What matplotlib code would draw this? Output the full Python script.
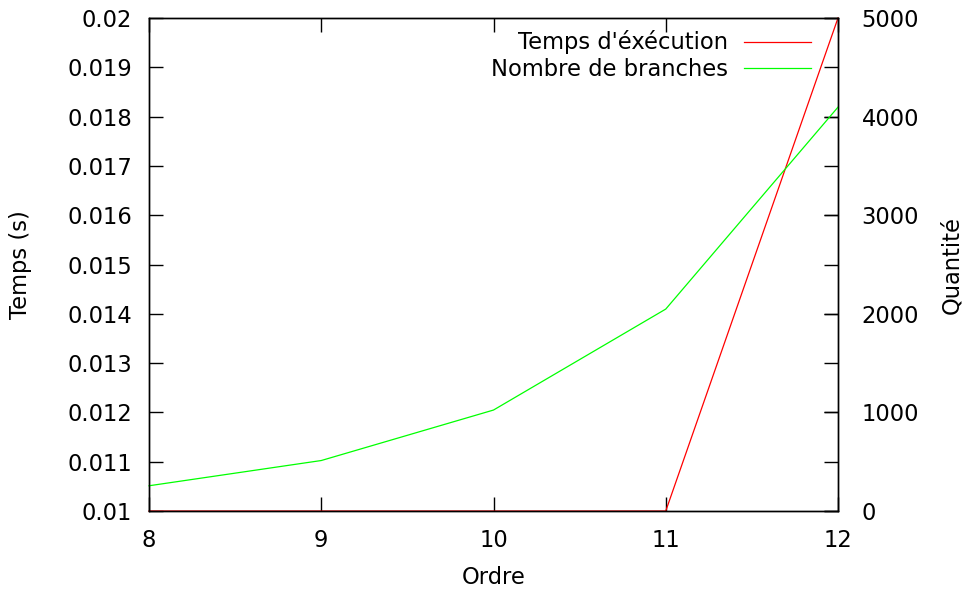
import matplotlib
matplotlib.use("Agg")
import matplotlib.pyplot as plt
from matplotlib.ticker import MultipleLocator, FuncFormatter

# data
ordre = [8, 9, 10, 11, 12]
temps = [0.01, 0.01, 0.01, 0.01, 0.02]
branches = [256, 512, 1024, 2048, 4096]

plt.rcParams['font.family'] = ['DejaVu Sans']
fs = 16.3

fig = plt.figure(figsize=(9.65, 5.92), dpi=100)
ax = fig.add_axes([0.1544, 0.1368, 0.714, 0.8328])
ax2 = ax.twinx()

l1, = ax.plot(ordre, temps, color='#ff0000', lw=0.9, label="Temps d'éxécution", clip_on=False)
l2, = ax2.plot(ordre, branches, color='#00ff00', lw=0.9, label="Nombre de branches", clip_on=False)

ax.set_xlim(8, 12)
ax.set_ylim(0.01, 0.02)
ax2.set_ylim(0, 5000)
ax.xaxis.set_major_locator(MultipleLocator(1))
ax.yaxis.set_major_locator(MultipleLocator(0.001))
ax.yaxis.set_major_formatter(FuncFormatter(lambda v, p: ('%.3f' % v).rstrip('0')))
ax2.yaxis.set_major_locator(MultipleLocator(1000))

ax.tick_params(axis='x', direction='in', length=10, width=1, top=True, pad=13, labelsize=fs)
ax.tick_params(axis='y', direction='in', length=10, width=1, right=True, pad=12, labelsize=fs)
ax2.tick_params(axis='y', direction='in', length=10, width=1, pad=17, labelsize=fs)

for a in (ax, ax2):
    for s in a.spines.values():
        s.set_linewidth(1)

ax.set_xlabel("Ordre", fontsize=fs)
ax.set_ylabel("Temps (s)", fontsize=fs)
ax2.set_ylabel("Quantité", fontsize=fs)
ax.xaxis.set_label_coords(0.5, -0.134, transform=ax.transAxes)
ax.xaxis.label.set_va('center')
ax.yaxis.set_label_coords(-0.186, 0.5)
ax.yaxis.label.set_va('center')
ax2.yaxis.set_label_coords(1.1655, 0.5)
ax2.yaxis.label.set_va('center')

ax2.legend([l1, l2], [l1.get_label(), l2.get_label()], loc='upper right',
           frameon=False, markerfirst=False, fontsize=fs, handlelength=2.97,
           handletextpad=0.7, labelspacing=0.15,
           bbox_to_anchor=(0.9907, 1.016))

fig.savefig("out.png", dpi=100)
